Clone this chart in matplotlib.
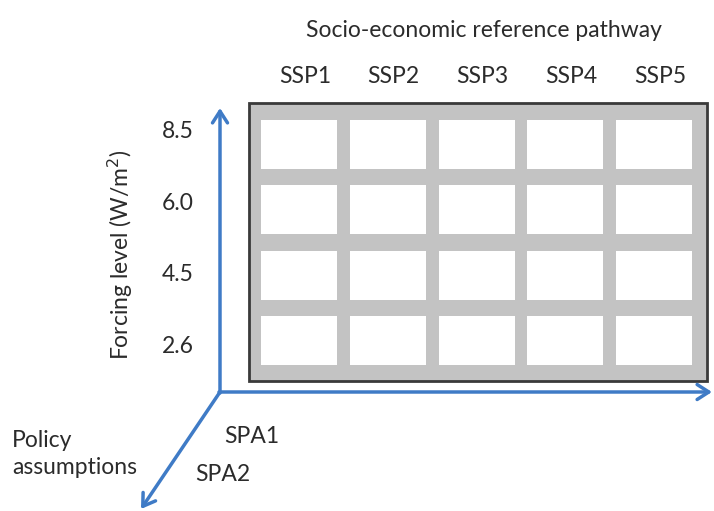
import matplotlib
matplotlib.use("Agg")
import matplotlib.pyplot as plt
from matplotlib.patches import Rectangle, FancyArrowPatch

ssp_labels = ["SSP1", "SSP2", "SSP3", "SSP4", "SSP5"]
forcing_labels = ["2.6", "4.5", "6.0", "8.5"]
spa_labels = ["SPA1", "SPA2"]
title_top = "Socio-economic reference pathway"
y_title = "Forcing level (W/m$^2$)"
policy_lines = ["Policy", "assumptions"]

W, H = 714, 511
fig = plt.figure(figsize=(W / 100, H / 100), dpi=100)
ax = fig.add_axes([0, 0, 1, 1])
ax.set_xlim(0, W)
ax.set_ylim(H, 0)
ax.axis("off")

plt.rcParams["font.family"] = ["Lato", "DejaVu Sans"]
txt = "#2b2b2b"
blue = "#3f7bc6"
fs = 16.5

# grey panel
x0, y0, x1, y1 = 249, 103, 707, 381
ax.add_patch(Rectangle((x0, y0), x1 - x0, y1 - y0, facecolor="#c3c3c3",
                       edgecolor="#3a3a3a", lw=2, zorder=1))
ncol, nrow = len(ssp_labels), len(forcing_labels)
cx0, cw, cstep = 261, 76, 88.75
ry0, rh, rstep = 120, 49, 65.3
for i in range(ncol):
    for j in range(nrow):
        ax.add_patch(Rectangle((cx0 + i * cstep, ry0 + j * rstep), cw, rh,
                               facecolor="white", edgecolor="none", zorder=2))

# column labels
for i, lab in enumerate(ssp_labels):
    ax.text(cx0 + i * cstep + cw / 2 + 6, 83, lab, ha="center", va="baseline",
            fontsize=fs, color=txt)
ax.text(484, 37, title_top, ha="center", va="baseline", fontsize=fs, color=txt)

# row labels (top = highest forcing)
for k, lab in enumerate(forcing_labels[::-1]):
    ax.text(178, 138 + k * 71.7, lab, ha="center", va="baseline", fontsize=fs, color=txt)
ax.text(120, 255, y_title, ha="center", va="center", rotation=90,
        fontsize=fs, color=txt)

# axes arrows
ox, oy = 220, 392
kw = dict(arrowstyle="->,head_length=0.7,head_width=0.45", color=blue,
          lw=2.5, mutation_scale=12, shrinkA=0, shrinkB=0, zorder=3)
ax.add_patch(FancyArrowPatch((ox, oy + 1), (ox, 108), **kw))
ax.add_patch(FancyArrowPatch((ox - 1, oy), (712, oy), **kw))
ax.add_patch(FancyArrowPatch((ox, oy), (141, 509), **kw))

# policy labels
ax.text(252, 443, spa_labels[0], ha="center", va="baseline", fontsize=fs, color=txt)
ax.text(223, 481, spa_labels[1], ha="center", va="baseline", fontsize=fs, color=txt)
for k, line in enumerate(policy_lines):
    ax.text(12, 447 + k * 27, line, ha="left", va="baseline", fontsize=fs, color=txt)

fig.savefig("out.png", dpi=100)
